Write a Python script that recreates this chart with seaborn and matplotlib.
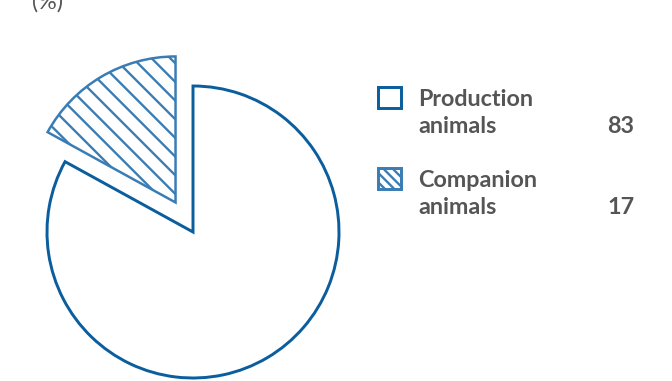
import matplotlib
matplotlib.use("Agg")
import matplotlib.pyplot as plt
from matplotlib.patches import Rectangle
import seaborn as sns

# Share of sales by animal type (%)
categories = ["Production\nanimals", "Companion\nanimals"]
values = [83, 17]
value_labels = ["83", "17"]

dark_blue = "#0b5e9e"
light_blue = "#3a7db5"
text_grey = "#555555"

sns.set_theme(style="white")
plt.rcParams["font.family"] = ["Lato", "DejaVu Sans"]
plt.rcParams["hatch.linewidth"] = 1.5

W, H, DPI = 672, 381, 112
fig = plt.figure(figsize=(W / DPI, H / DPI), dpi=DPI)

# Pie axes: radius 1 spans 146 px, centred at (193, 232) from top-left
r_px = 146
lim = 1.25
half = lim * r_px
cx, cy = 193, H - 232
ax = fig.add_axes([(cx - half) / W, (cy - half) / H, 2 * half / W, 2 * half / H])
ax.set_xlim(-lim, lim)
ax.set_ylim(-lim, lim)
ax.set_aspect("equal")
ax.axis("off")

wedges, _ = ax.pie(
    values,
    startangle=90,
    counterclock=False,
    explode=[0, 0.235],
    colors=["white", "white"],
    radius=1,
)
wedges[0].set_edgecolor(dark_blue)
wedges[0].set_linewidth(1.9)
wedges[1].set_edgecolor(light_blue)
wedges[1].set_linewidth(1.6)
wedges[1].set_hatch("\\\\")
for w in wedges:
    w.set_joinstyle("miter")

font = dict(fontsize=15, color=text_grey, ha="left", va="baseline")

# Unit label
fig.text(32 / W, 1 - 9 / H, "(%)", **font)

# Legend: boxes, two-line labels and values
box_w, box_h = 23, 21
rows = [(87, dark_blue, None), (168, light_blue, "\\\\\\\\")]
for (top, col, hatch), label, val in zip(rows, categories, value_labels):
    rect = Rectangle((378 / W, 1 - (top + box_h) / H), box_w / W, box_h / H,
                     transform=fig.transFigure, facecolor="white",
                     edgecolor=col, linewidth=1.9, hatch=hatch)
    fig.add_artist(rect)
    first, second = label.split("\n")
    base1 = top + 19
    base2 = base1 + 27
    fig.text(418 / W, 1 - base1 / H, first, fontweight="bold", **font)
    fig.text(418 / W, 1 - base2 / H, second, fontweight="bold", **font)
    fig.text(607 / W, 1 - base2 / H, val, fontweight="bold", **font)

fig.savefig("out.png", dpi=DPI, facecolor="white")
